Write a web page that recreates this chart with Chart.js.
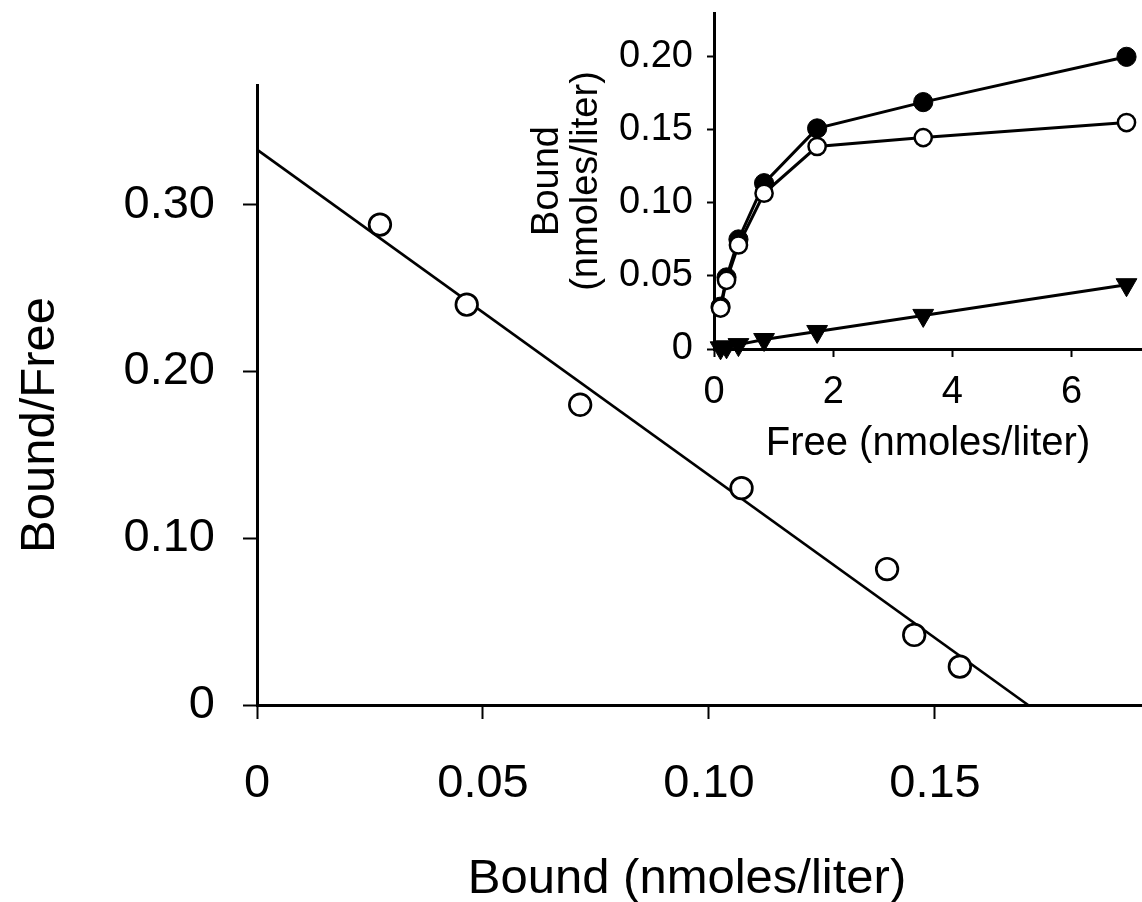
<!DOCTYPE html>
<html>
<head>
<meta charset="utf-8">
<title>Scatchard plot</title>
<script src="https://cdn.jsdelivr.net/npm/chart.js@4.4.0/dist/chart.umd.min.js"></script>
<style>
  html, body { margin: 0; padding: 0; background: #fff; overflow: hidden; }
  #wrap { position: relative; width: 1142px; height: 902px; }
  #mainChart { position: absolute; left: 0; top: 0; }
  #insetChart { position: absolute; left: 500px; top: 0; }
</style>
</head>
<body>
<div id="wrap">
  <canvas id="mainChart" width="1142" height="902"></canvas>
  <canvas id="insetChart" width="642" height="480"></canvas>
</div>
<script>
// Scatchard plot (main)
var scatBound = [0.0272, 0.0464, 0.0715, 0.1072, 0.1394, 0.1454, 0.1555];
var scatRatio = [0.288, 0.240, 0.180, 0.130, 0.0815, 0.042, 0.023];
var fitBound = [0, 0.1706];
var fitRatio = [0.333, 0];
var mainXTicks = [0, 0.05, 0.10, 0.15];
var mainYTicks = [0, 0.10, 0.20, 0.30];

// saturation curve (inset)
var freeConc = [0.11, 0.21, 0.41, 0.84, 1.73, 3.51, 6.92];
var totalBound = [0.029, 0.049, 0.075, 0.1135, 0.151, 0.169, 0.200];
var specificBound = [0.028, 0.047, 0.0712, 0.1066, 0.1386, 0.1447, 0.155];
var nonspecificBound = [0.0008, 0.0015, 0.003, 0.0065, 0.012, 0.023, 0.044];
var insetXTicks = [0, 2, 4, 6];
var insetYTicks = [0, 0.05, 0.10, 0.15, 0.20];

var FONT = '"Liberation Sans", Arial, sans-serif';
Chart.defaults.font.family = FONT;
Chart.defaults.color = '#000';

function pairs(xs, ys) {
    return xs.map(function (x, i) { return {x: x, y: ys[i]}; });
}
function fixedTicks(list) {
    return function (axis) {
        axis.ticks = list.map(function (v) { return {value: v}; });
    };
}
function decLabel(v) {
    return v === 0 ? '0' : v.toFixed(2);
}
// force the axis box size and drop the label overhang padding
function fitX(h) {
    return function (s) { s.height = h; s.paddingLeft = 0; s.paddingRight = 0; };
}
function fitY(w) {
    return function (s) { s.width = w; s.paddingTop = 0; s.paddingBottom = 0; };
}

// axis titles of the big plot
var mainTitles = {
    id: 'mainTitles',
    afterDraw: function (chart) {
        var ctx = chart.ctx;
        ctx.save();
        ctx.fillStyle = '#000';
        ctx.font = '49px ' + FONT;
        ctx.textAlign = 'center';
        ctx.textBaseline = 'alphabetic';
        ctx.fillText('Bound (nmoles/liter)', 687, 893);
        ctx.translate(54, 425);
        ctx.rotate(-Math.PI / 2);
        ctx.fillText('Bound/Free', 0, 0);
        ctx.restore();
    }
};

var mainChart = new Chart(document.getElementById('mainChart'), {
    type: 'scatter',
    data: {
        datasets: [{
            data: pairs(scatBound, scatRatio),
            pointStyle: 'circle',
            pointRadius: 10.8,
            pointBorderWidth: 2.7,
            pointBackgroundColor: '#fff',
            pointBorderColor: '#000',
            showLine: false,
            clip: false
        }, {
            data: pairs(fitBound, fitRatio),
            showLine: true,
            borderColor: '#000',
            borderWidth: 2.7,
            pointRadius: 0,
            clip: false
        }]
    },
    options: {
        responsive: false,
        animation: false,
        events: [],
        layout: {autoPadding: false, padding: {top: 85, left: 0, right: 0, bottom: 0}},
        plugins: {legend: {display: false}, tooltip: {enabled: false}},
        scales: {
            x: {
                type: 'linear', min: 0, max: 0.1958,
                afterBuildTicks: fixedTicks(mainXTicks),
                afterFit: fitX(197),
                ticks: {font: {size: 47}, padding: 37, maxRotation: 0, callback: decLabel},
                grid: {drawOnChartArea: false, drawTicks: true, tickLength: 14, tickWidth: 2, tickColor: '#000'},
                border: {display: true, color: '#000', width: 3}
            },
            y: {
                type: 'linear', min: 0, max: 0.3717,
                afterBuildTicks: fixedTicks(mainYTicks),
                afterFit: fitY(257),
                ticks: {font: {size: 47}, padding: 28, callback: decLabel},
                grid: {drawOnChartArea: false, drawTicks: true, tickLength: 14, tickWidth: 2, tickColor: '#000'},
                border: {display: true, color: '#000', width: 3}
            }
        }
    },
    plugins: [mainTitles]
});

var insetChart = new Chart(document.getElementById('insetChart'), {
    type: 'scatter',
    data: {
        datasets: [{
            data: pairs(freeConc, specificBound),
            showLine: true,
            borderColor: '#000',
            borderWidth: 3,
            pointStyle: 'circle',
            pointRadius: 8.6,
            pointBorderWidth: 2.5,
            pointBackgroundColor: '#fff',
            pointBorderColor: '#000',
            clip: false
        }, {
            data: pairs(freeConc, totalBound),
            showLine: true,
            borderColor: '#000',
            borderWidth: 3,
            pointStyle: 'circle',
            pointRadius: 9.6,
            pointBorderWidth: 1,
            pointBackgroundColor: '#000',
            pointBorderColor: '#000',
            clip: false
        }, {
            data: pairs(freeConc, nonspecificBound),
            showLine: true,
            borderColor: '#000',
            borderWidth: 3,
            pointStyle: 'triangle',
            pointRotation: 180,
            pointRadius: 12,
            pointBorderWidth: 1,
            pointBackgroundColor: '#000',
            pointBorderColor: '#000',
            clip: false
        }]
    },
    options: {
        responsive: false,
        animation: false,
        events: [],
        layout: {autoPadding: false, padding: {top: 13, left: 0, right: 0, bottom: 0}},
        plugins: {legend: {display: false}, tooltip: {enabled: false}},
        scales: {
            x: {
                type: 'linear', min: 0, max: 7.18,
                afterBuildTicks: fixedTicks(insetXTicks),
                afterFit: fitX(131),
                ticks: {font: {size: 38}, padding: 13, maxRotation: 0,
                        callback: function (v) { return String(v); }},
                grid: {drawOnChartArea: false, drawTicks: true, tickLength: 8, tickWidth: 2, tickColor: '#000'},
                border: {display: true, color: '#000', width: 3},
                title: {display: true, text: 'Free (nmoles/liter)',
                        font: {size: 40, lineHeight: 1}, padding: {top: 0, bottom: 16}}
            },
            y: {
                type: 'linear', min: 0, max: 0.23,
                afterBuildTicks: fixedTicks(insetYTicks),
                afterFit: fitY(214),
                ticks: {font: {size: 38}, padding: 14, callback: decLabel},
                grid: {drawOnChartArea: false, drawTicks: true, tickLength: 7, tickWidth: 2, tickColor: '#000'},
                border: {display: true, color: '#000', width: 3},
                title: {display: true, text: ['Bound', '(nmoles/liter)'],
                        font: {size: 38, lineHeight: 1.03}, padding: {top: 28, bottom: 0}}
            }
        }
    }
});
</script>
</body>
</html>
